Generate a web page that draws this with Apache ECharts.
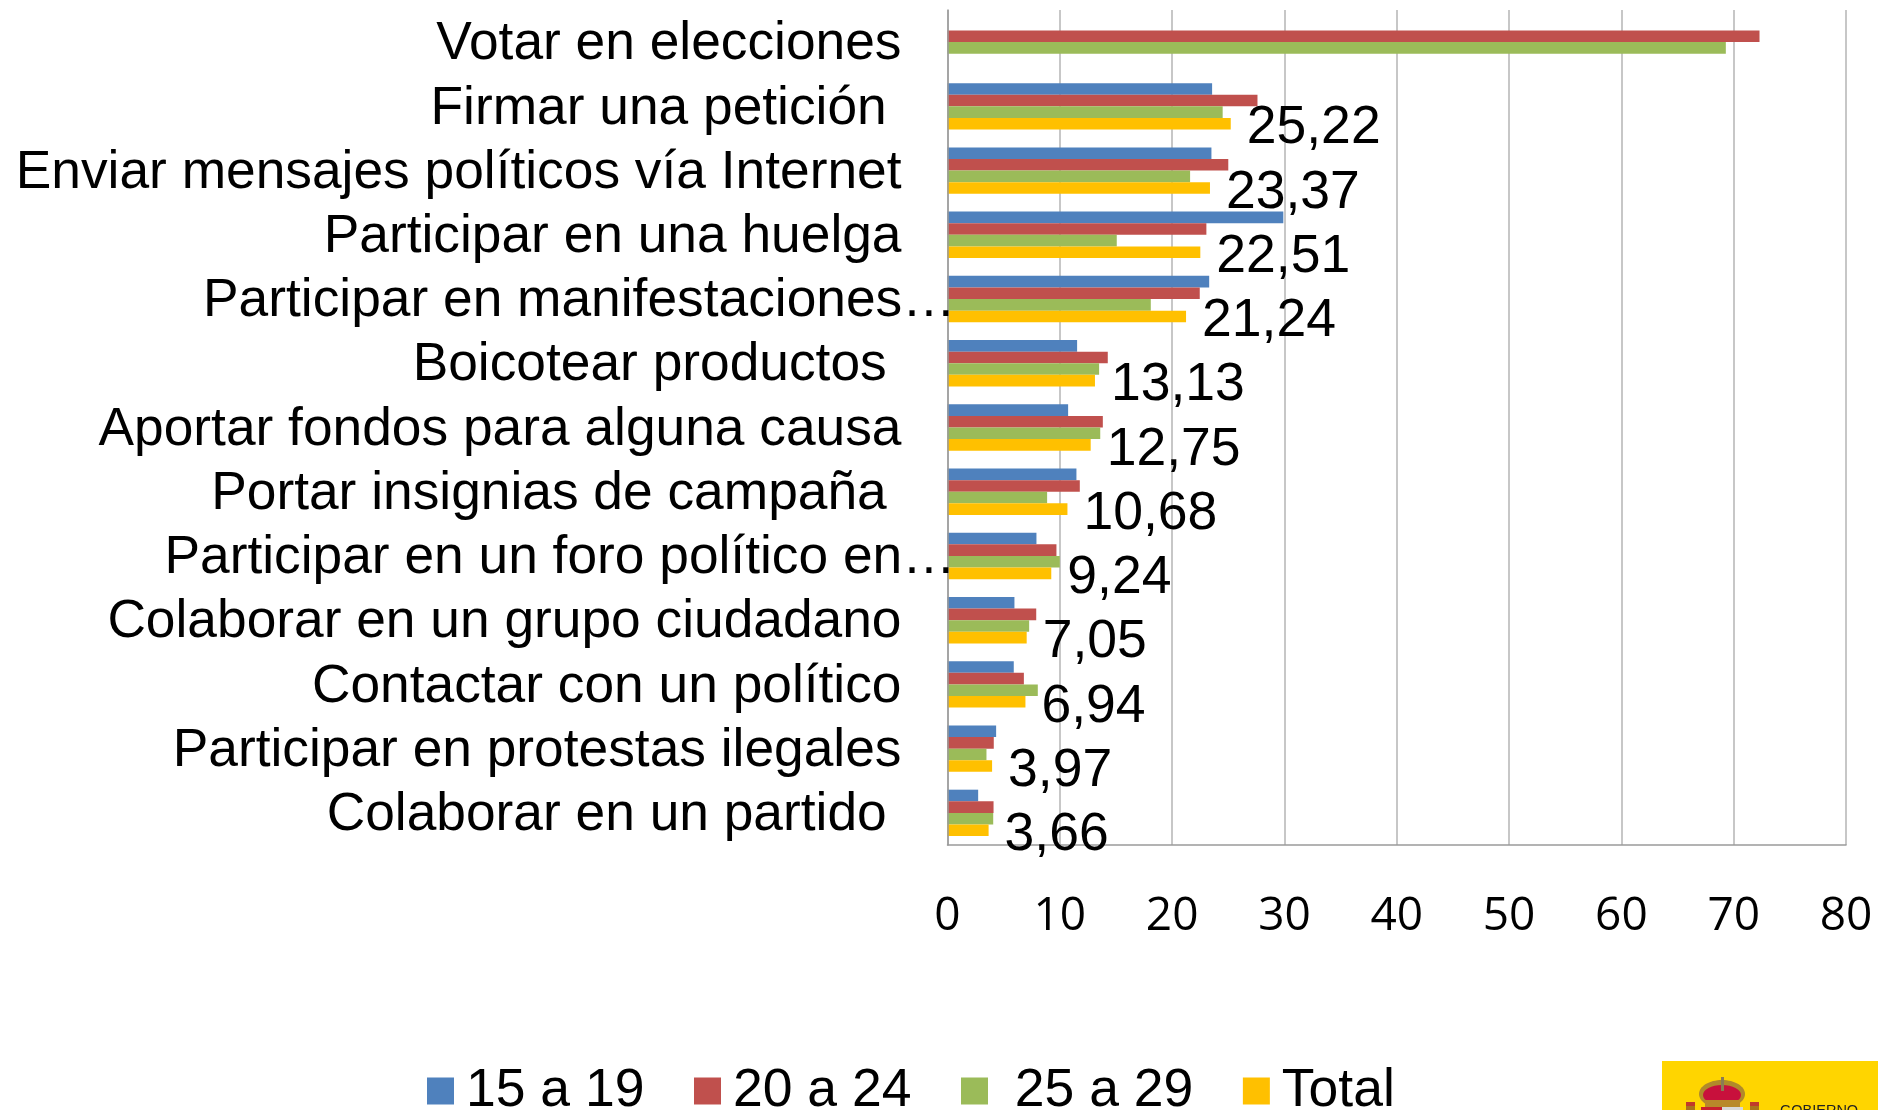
<!DOCTYPE html>
<html><head><meta charset="utf-8">
<style>html,body{margin:0;padding:0;background:#fff}#c{width:1878px;height:1110px}</style>
<script src="https://cdn.jsdelivr.net/npm/echarts@6/dist/echarts.min.js"></script>
</head><body><div id="c"></div>
<script>
const categories = ['Votar en elecciones','Firmar una petición ','Enviar mensajes políticos vía Internet','Participar en una huelga','Participar en manifestaciones…','Boicotear productos ','Aportar fondos para alguna causa','Portar insignias de campaña ','Participar en un foro político en…','Colaborar en un grupo ciudadano','Contactar con un político','Participar en protestas ilegales','Colaborar en un partido '];
const seriesNames = ['15 a 19','20 a 24',' 25 a 29','Total'];
const age15 = [null,23.56,23.5,29.9,23.3,11.54,10.74,11.48,7.92,5.96,5.9,4.33,2.73];
const age20 = [72.3,27.6,25.0,23.05,22.46,14.27,13.83,11.78,9.7,7.9,6.8,4.12,4.1];
const age25 = [69.3,24.5,21.6,15.07,18.1,13.5,13.6,8.87,10.0,7.27,8.04,3.47,4.07];
const total = [null,25.22,23.37,22.51,21.24,13.13,12.75,10.68,9.24,7.05,6.94,3.97,3.66];
const colors = ['#4F81BD','#C0504D','#9BBB59','#FFC000'];
const values = [age15,age20,age25,total];

const FONT = '"Liberation Sans", Arial, sans-serif';
const chart = echarts.init(document.getElementById('c'));
chart.setOption({
  animation:false,
  backgroundColor:'#fff',
  grid:{left:947.5,right:32,top:10,bottom:265,containLabel:false},
  legend:{left:422,top:1059,itemWidth:27,itemHeight:27,itemGap:49.5,icon:'rect',
    data:seriesNames,
    textStyle:{fontFamily:FONT,fontSize:53.5,color:'#000',padding:[0,0,0,7]}},
  xAxis:{type:'value',min:0,max:80,interval:10,
    axisLine:{show:true,onZero:false,lineStyle:{color:'#9A9A9A',width:1.5}},axisTick:{show:false},
    axisLabel:{fontFamily:'"Open Sans"',fontSize:46,color:'#000',margin:49},
    splitLine:{show:true,lineStyle:{color:'#B4B4B4',width:1.5}}},
  yAxis:{type:'category',inverse:true,data:categories,
    axisLine:{show:true,lineStyle:{color:'#9A9A9A',width:1.5}},
    axisTick:{show:false},
    axisLabel:{interval:0,margin:-8,fontFamily:FONT,fontSize:53.3,color:'#000',align:'right',
      formatter:v=>v.endsWith('…')?`{e|${v}}`:`{t|${v}}`,
      rich:{t:{fontFamily:FONT,fontSize:53.3,color:'#000',padding:[5,54,0,0]},
            e:{fontFamily:FONT,fontSize:53.3,color:'#000',padding:[5,0,0,0]}}},
    z:5},
  series:seriesNames.map((n,i)=>({
    name:n,type:'bar',data:values[i],barWidth:11.6,barGap:0,
    itemStyle:{color:colors[i]},
    label:i===3?{show:true,position:'right',distance:15,fontFamily:FONT,fontSize:53.5,color:'#000',offset:[1,5],
      formatter:p=>String(p.value).replace('.',',')}:{show:false}
  })),
  graphic:[
    {type:'rect',shape:{x:1662,y:1061,width:216,height:49},style:{fill:'#FFD500'},silent:true},
    {type:'text',style:{x:1780,y:1111,text:'GOBIERNO',font:'14.5px '+FONT,fill:'#222',verticalAlign:'middle'},silent:true},
    {type:'ellipse',shape:{cx:1722,cy:1094,rx:23,ry:14},style:{fill:'#B08A2A'},silent:true},
    {type:'ellipse',shape:{cx:1722,cy:1095,rx:19,ry:10},style:{fill:'#C8103C'},silent:true},
    {type:'rect',shape:{x:1721,y:1077,width:3,height:14},style:{fill:'#8A7A55'},silent:true},
    {type:'rect',shape:{x:1705,y:1100,width:35,height:7},style:{fill:'#B8892A'},silent:true},
    {type:'rect',shape:{x:1701,y:1107,width:21,height:3},style:{fill:'#C8202E'},silent:true},
    {type:'rect',shape:{x:1722,y:1107,width:21,height:3},style:{fill:'#D8D8D8'},silent:true},
    {type:'rect',shape:{x:1686,y:1102,width:9,height:4},style:{fill:'#C0392B'},silent:true},
    {type:'rect',shape:{x:1686,y:1106,width:9,height:4},style:{fill:'#A9731A'},silent:true},
    {type:'rect',shape:{x:1750,y:1102,width:9,height:4},style:{fill:'#C0392B'},silent:true},
    {type:'rect',shape:{x:1750,y:1106,width:9,height:4},style:{fill:'#A9731A'},silent:true}
  ]
});
</script></body></html>
